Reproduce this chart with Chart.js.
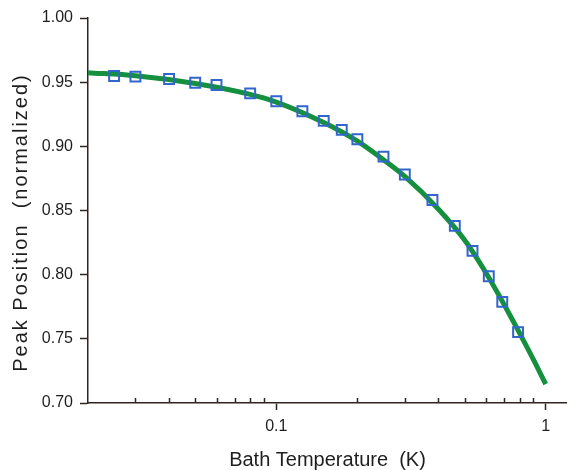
<!DOCTYPE html>
<html>
<head>
<meta charset="utf-8">
<script src="https://cdn.jsdelivr.net/npm/chart.js@4"></script>
<style>
  html, body { margin: 0; padding: 0; background: #fff; }
  #chart { display: block; }
</style>
</head>
<body>
<canvas id="chart" width="567" height="470"></canvas>
<script>
// measured points (blue squares)
const markerT = [0.025, 0.03, 0.04, 0.05, 0.06, 0.08, 0.1, 0.125, 0.15, 0.175, 0.2, 0.25, 0.3, 0.38, 0.46, 0.535, 0.615, 0.69, 0.79];
const markerPeak = [0.9548, 0.9543, 0.9525, 0.9496, 0.9478, 0.9413, 0.9351, 0.9273, 0.9198, 0.9128, 0.9055, 0.892, 0.878, 0.8582, 0.838, 0.8185, 0.7988, 0.7788, 0.7552];

// fitted curve (green)
const fitT = [0.02, 0.03, 0.05, 0.08, 0.1, 0.15, 0.2, 0.25, 0.3, 0.4, 0.5, 0.6, 0.7, 0.8, 0.9, 1.0];
const fitPeak = [0.9574, 0.955, 0.949, 0.9405, 0.9345, 0.9185, 0.904, 0.8895, 0.8765, 0.851, 0.827, 0.8015, 0.777, 0.7545, 0.734, 0.7147];

// axis ticks
const xMajorTicks = [0.1, 1];
const xMinorTicks = [0.03, 0.04, 0.05, 0.06, 0.07, 0.08, 0.09, 0.2, 0.3, 0.4, 0.5, 0.6, 0.7, 0.8, 0.9];

const yTitle = 'Peak Position  (normalized)';

const axisColor = '#2f2420';
const textColor = '#1e1e1e';

// inward minor ticks on the x axis + the (slightly wide) y title
const extras = {
  id: 'extras',
  afterDraw(chart) {
    const ctx = chart.ctx;
    const x = chart.scales.x;
    const area = chart.chartArea;
    ctx.save();
    ctx.strokeStyle = axisColor;
    ctx.lineWidth = 1.5;
    xMinorTicks.forEach(v => {
      const px = Math.round(x.getPixelForValue(v)) + 0.5;
      ctx.beginPath();
      ctx.moveTo(px, area.bottom);
      ctx.lineTo(px, area.bottom - 5);
      ctx.stroke();
    });
    ctx.restore();

    ctx.save();
    ctx.translate(21, (area.top + area.bottom) / 2 + 12);
    ctx.rotate(-Math.PI / 2);
    ctx.font = '20px "Liberation Sans"';
    ctx.letterSpacing = '2px';
    ctx.fillStyle = textColor;
    ctx.textAlign = 'center';
    ctx.textBaseline = 'middle';
    ctx.fillText(yTitle, 0, 0);
    ctx.restore();
  }
};

new Chart(document.getElementById('chart'), {
  type: 'scatter',
  data: {
    datasets: [
      {
        label: 'fit',
        type: 'line',
        data: fitT.map((t, i) => ({ x: t, y: fitPeak[i] })),
        borderColor: '#15903e',
        borderWidth: 5,
        pointRadius: 0,
        cubicInterpolationMode: 'monotone',
        fill: false,
        order: 2
      },
      {
        label: 'data',
        data: markerT.map((t, i) => ({ x: t, y: markerPeak[i] })),
        pointStyle: 'rect',
        pointRadius: 7,
        pointBorderWidth: 2,
        pointBorderColor: '#3366cc',
        pointBackgroundColor: 'rgba(255,255,255,0)',
        showLine: false,
        order: 1
      }
    ]
  },
  plugins: [extras],
  options: {
    responsive: false,
    animation: false,
    clip: false,
    layout: { autoPadding: false, padding: { top: 18, right: 0, left: 0, bottom: 0 } },
    plugins: {
      legend: { display: false },
      tooltip: { enabled: false }
    },
    scales: {
      x: {
        type: 'logarithmic',
        min: 0.02,
        max: 1.2,
        afterBuildTicks: s => { s.ticks = xMajorTicks.map(v => ({ value: v })); },
        afterFit: s => { s.height = 67; s.paddingLeft = 0; s.paddingRight = 0; },
        grid: { drawOnChartArea: false, tickLength: 7, tickWidth: 1.5, tickColor: axisColor },
        border: { color: axisColor, width: 1.5 },
        ticks: {
          color: textColor,
          font: { family: 'Liberation Sans', size: 16 },
          padding: 7,
          maxRotation: 0,
          callback: v => String(v)
        },
        title: {
          display: true,
          text: 'Bath Temperature  (K)',
          color: textColor,
          font: { family: 'Liberation Sans', size: 20, lineHeight: 1.0 },
          padding: { top: 4, bottom: 0 }
        }
      },
      y: {
        min: 0.7,
        max: 1.0,
        afterFit: s => { s.width = 88; s.paddingTop = 0; s.paddingBottom = 0; },
        grid: { drawOnChartArea: false, tickLength: 8, tickWidth: 1.5, tickColor: axisColor },
        border: { color: axisColor, width: 1.5 },
        ticks: {
          stepSize: 0.05,
          color: textColor,
          font: { family: 'Liberation Sans', size: 16 },
          padding: 7,
          callback: v => v.toFixed(2)
        },
        title: { display: false }
      }
    }
  }
});
</script>
</body>
</html>
